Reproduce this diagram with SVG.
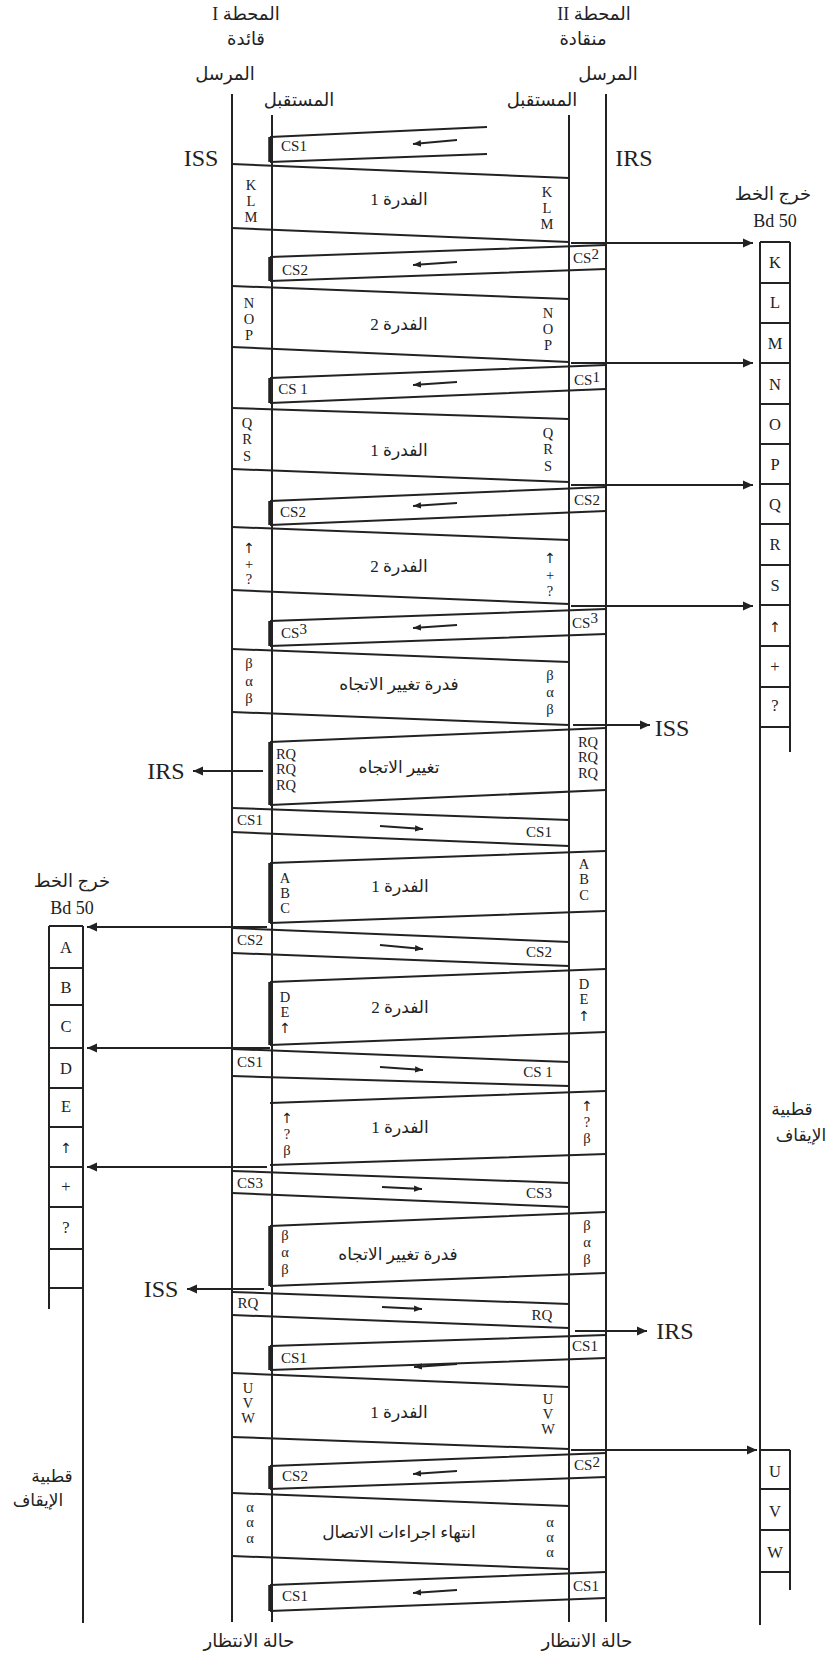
<svg xmlns="http://www.w3.org/2000/svg" width="829" height="1657" viewBox="0 0 829 1657">
<style>
.ln{stroke:#222;stroke-width:2;fill:none}
.thk{stroke:#222;stroke-width:3.5;fill:none}
.tx{font-family:"Liberation Serif",serif;fill:#222;text-anchor:middle}
.s{font-size:15px}
.l{font-size:14.5px}
.tp{font-size:16.5px}
.big{font-size:24px}
.bd{font-size:18px}
.up{font-family:"DejaVu Sans",sans-serif;font-size:14px}
.ar{font-family:"Liberation Serif","DejaVu Sans",serif;fill:#222;text-anchor:middle;direction:rtl;font-size:17px}
.arb{font-size:18px}
</style>
<defs>
<marker id="ah" markerUnits="userSpaceOnUse" markerWidth="11" markerHeight="10" refX="10" refY="5" orient="auto"><path d="M0,0.5 L10,5 L0,9.5 z" fill="#222"/></marker>
<marker id="as" markerUnits="userSpaceOnUse" markerWidth="9" markerHeight="8" refX="8" refY="4" orient="auto"><path d="M0,0.8 L8,4 L0,7.2 z" fill="#222"/></marker>
</defs>
<rect width="829" height="1657" fill="#fff"/>

<g id="headers">
<text class="ar arb" x="246" y="20">المحطة I</text>
<text class="ar arb" x="246" y="45">قائدة</text>
<text class="ar arb" x="225" y="80">المرسل</text>
<text class="ar arb" x="299" y="106">المستقبل</text>
<text class="ar arb" x="594" y="20">المحطة II</text>
<text class="ar arb" x="583" y="45">منقادة</text>
<text class="ar arb" x="608" y="80">المرسل</text>
<text class="ar arb" x="542" y="106">المستقبل</text>
<text class="tx big" x="201" y="166">ISS</text>
<text class="tx big" x="634" y="166">IRS</text>
<text class="ar arb" x="773" y="200">خرج الخط</text>
<text class="tx bd" x="775" y="227">Bd 50</text>
<text class="ar arb" x="72" y="887">خرج الخط</text>
<text class="tx bd" x="72" y="914">Bd 50</text>
<text class="ar" x="792" y="1115">قطبية</text>
<text class="ar" x="801" y="1141">الإيقاف</text>
<text class="ar" x="52" y="1482">قطبية</text>
<text class="ar" x="38" y="1506">الإيقاف</text>
<text class="ar arb" x="249" y="1647">حالة الانتظار</text>
<text class="ar arb" x="587" y="1647">حالة الانتظار</text>
</g>

<g id="lifelines" class="ln">
<line x1="232" y1="94" x2="232" y2="1622"/>
<line x1="272" y1="115" x2="272" y2="1622"/>
<line x1="569" y1="115" x2="569" y2="1622"/>
<line x1="606" y1="94" x2="606" y2="1622"/>
</g>

<g id="tape-right">
<path class="ln" d="M760,242 V1625 M790,242 V752 M760,242 H790 M760,283 H790 M760,323 H790 M760,363 H790 M760,404 H790 M760,444 H790 M760,484 H790 M760,524 H790 M760,565 H790 M760,605 H790 M760,646 H790 M760,687 H790 M760,727 H790"/>
<g class="tx tp">
<text x="775" y="268">K</text><text x="775" y="308">L</text><text x="775" y="349">M</text><text x="775" y="390">N</text><text x="775" y="430">O</text><text x="775" y="470">P</text><text x="775" y="510">Q</text><text x="775" y="550">R</text><text x="775" y="591">S</text><text class="up" x="775" y="632">↑</text><text x="775" y="672">+</text><text x="775" y="711">?</text>
</g>
</g>

<g id="tape-right-lower">
<path class="ln" d="M790,1450 V1590 M760,1450 H790 M760,1489 H790 M760,1530 H790 M760,1572 H790"/>
<g class="tx tp"><text x="775" y="1477">U</text><text x="775" y="1517">V</text><text x="775" y="1558">W</text></g>
</g>

<g id="tape-left">
<path class="ln" d="M49,926 V1309 M83,926 V1623 M49,926 H83 M49,968 H83 M49,1005 H83 M49,1048 H83 M49,1088 H83 M49,1127 H83 M49,1167 H83 M49,1207 H83 M49,1249 H83 M49,1288 H83"/>
<g class="tx tp">
<text x="66" y="953">A</text><text x="66" y="993">B</text><text x="66" y="1032">C</text><text x="66" y="1074">D</text><text x="66" y="1112">E</text><text class="up" x="66" y="1153">↑</text><text x="66" y="1192">+</text><text x="66" y="1233">?</text>
</g>
</g>

<!-- Phase 1 -->
<g id="cs1-init">
<path class="ln" d="M487,127 L270,137 M487,154 L270,162"/><line class="thk" x1="270" y1="137" x2="270" y2="162"/>
<text class="tx s" x="294" y="151">CS1</text>
</g>
<g id="blk-klm">
<path class="ln" d="M232,164 L569,178 M232,228 L569,242"/>
<text class="tx l"><tspan x="251" y="190">K</tspan><tspan x="251" y="206">L</tspan><tspan x="251" y="222">M</tspan></text>
<text class="tx l"><tspan x="547" y="197">K</tspan><tspan x="547" y="213">L</tspan><tspan x="547" y="229">M</tspan></text>
<text class="ar" x="399" y="205">الفدرة 1</text>
</g>
<g id="cs2-a">
<path class="ln" d="M606,245 L270,257 M606,269 L270,281"/><line class="thk" x1="270" y1="257" x2="270" y2="281"/>
<text class="tx s" x="295" y="275">CS2</text>
<text class="tx s" x="586" y="263">CS<tspan dy="-4">2</tspan></text>
</g>
<g id="blk-nop">
<path class="ln" d="M232,286 L569,299 M232,347 L569,362"/>
<text class="tx l"><tspan x="249" y="308">N</tspan><tspan x="249" y="324">O</tspan><tspan x="249" y="340">P</tspan></text>
<text class="tx l"><tspan x="548" y="318">N</tspan><tspan x="548" y="334">O</tspan><tspan x="548" y="350">P</tspan></text>
<text class="ar" x="399" y="330">الفدرة 2</text>
</g>
<g id="cs1-a">
<path class="ln" d="M606,365 L270,378 M606,389 L270,403"/><line class="thk" x1="270" y1="378" x2="270" y2="403"/>
<text class="tx s" x="293" y="394">CS 1</text>
<text class="tx s" x="587" y="385">CS<tspan dy="-3">1</tspan></text>
</g>
<g id="blk-qrs">
<path class="ln" d="M232,408 L569,419 M232,469 L569,482"/>
<text class="tx l"><tspan x="247" y="428">Q</tspan><tspan x="247" y="444">R</tspan><tspan x="247" y="461">S</tspan></text>
<text class="tx l"><tspan x="548" y="438">Q</tspan><tspan x="548" y="454">R</tspan><tspan x="548" y="471">S</tspan></text>
<text class="ar" x="399" y="456">الفدرة 1</text>
</g>
<g id="cs2-b">
<path class="ln" d="M606,487 L270,501 M606,511 L270,525"/><line class="thk" x1="270" y1="501" x2="270" y2="525"/>
<text class="tx s" x="293" y="517">CS2</text>
<text class="tx s" x="587" y="505">CS2</text>
</g>
<g id="blk-arr">
<path class="ln" d="M232,527 L569,540 M232,590 L569,604"/>
<text class="tx l"><tspan class="up" x="249" y="553">↑</tspan><tspan x="249" y="569">+</tspan><tspan x="249" y="584">?</tspan></text>
<text class="tx l"><tspan class="up" x="550" y="563">↑</tspan><tspan x="550" y="580">+</tspan><tspan x="550" y="596">?</tspan></text>
<text class="ar" x="399" y="572">الفدرة 2</text>
</g>
<g id="cs3-a">
<path class="ln" d="M606,609 L270,621 M606,634 L270,646"/><line class="thk" x1="270" y1="621" x2="270" y2="646"/>
<text class="tx s" x="294" y="638">CS<tspan dy="-4">3</tspan></text>
<text class="tx s" x="585" y="628">CS<tspan dy="-5">3</tspan></text>
</g>
<g id="blk-bab1">
<path class="ln" d="M232,649 L569,662 M232,712 L569,725"/>
<text class="tx l"><tspan x="249" y="668">β</tspan><tspan x="249" y="686">α</tspan><tspan x="249" y="703">β</tspan></text>
<text class="tx l"><tspan x="550" y="680">β</tspan><tspan x="550" y="697">α</tspan><tspan x="550" y="714">β</tspan></text>
<text class="ar" x="399" y="690">فدرة تغيير الاتجاه</text>
</g>
<g id="rq-frame">
<path class="ln" d="M606,728 L270,742 M606,790 L270,805"/><line class="thk" x1="270" y1="742" x2="270" y2="805"/>
<text class="tx l"><tspan x="286" y="759">RQ</tspan><tspan x="286" y="774">RQ</tspan><tspan x="286" y="790">RQ</tspan></text>
<text class="tx l"><tspan x="588" y="747">RQ</tspan><tspan x="588" y="762">RQ</tspan><tspan x="588" y="778">RQ</tspan></text>
<text class="ar" x="399" y="773">تغيير الاتجاه</text>
</g>

<!-- Phase 2 -->
<g id="cs1-b">
<path class="ln" d="M232,808 L569,820 M232,832 L569,846"/>
<text class="tx s" x="250" y="825">CS1</text>
<text class="tx s" x="539" y="837">CS1</text>
</g>
<g id="blk-abc">
<path class="ln" d="M606,851 L270,863 M606,911 L270,923"/><line class="thk" x1="270" y1="863" x2="270" y2="923"/>
<text class="tx l"><tspan x="285" y="883">A</tspan><tspan x="285" y="898">B</tspan><tspan x="285" y="913">C</tspan></text>
<text class="tx l"><tspan x="584" y="869">A</tspan><tspan x="584" y="884">B</tspan><tspan x="584" y="900">C</tspan></text>
<text class="ar" x="400" y="892">الفدرة 1</text>
</g>
<g id="cs2-c">
<path class="ln" d="M232,928 L569,942 M232,953 L569,966"/>
<text class="tx s" x="250" y="945">CS2</text>
<text class="tx s" x="539" y="957">CS2</text>
</g>
<g id="blk-de">
<path class="ln" d="M606,969 L270,982 M606,1032 L270,1045"/><line class="thk" x1="270" y1="982" x2="270" y2="1045"/>
<text class="tx l"><tspan x="285" y="1002">D</tspan><tspan x="285" y="1017">E</tspan><tspan class="up" x="285" y="1033">↑</tspan></text>
<text class="tx l"><tspan x="584" y="989">D</tspan><tspan x="584" y="1004">E</tspan><tspan class="up" x="584" y="1021">↑</tspan></text>
<text class="ar" x="400" y="1013">الفدرة 2</text>
</g>
<g id="cs1-c">
<path class="ln" d="M232,1049 L569,1062 M232,1076 L569,1086"/>
<text class="tx s" x="250" y="1067">CS1</text>
<text class="tx s" x="538" y="1077">CS 1</text>
</g>
<g id="blk-aqb">
<path class="ln" d="M606,1091 L270,1103 M606,1154 L270,1165"/>
<text class="tx l"><tspan class="up" x="287" y="1123">↑</tspan><tspan x="287" y="1139">?</tspan><tspan x="287" y="1155">β</tspan></text>
<text class="tx l"><tspan class="up" x="587" y="1111">↑</tspan><tspan x="587" y="1127">?</tspan><tspan x="587" y="1143">β</tspan></text>
<text class="ar" x="400" y="1133">الفدرة 1</text>
</g>
<g id="cs3-b">
<path class="ln" d="M232,1171 L569,1183 M232,1193 L569,1207"/>
<text class="tx s" x="250" y="1188">CS3</text>
<text class="tx s" x="539" y="1198">CS3</text>
</g>
<g id="blk-bab2">
<path class="ln" d="M606,1212 L270,1226 M606,1273 L270,1286"/><line class="thk" x1="270" y1="1226" x2="270" y2="1286"/>
<text class="tx l"><tspan x="285" y="1240">β</tspan><tspan x="285" y="1257">α</tspan><tspan x="285" y="1274">β</tspan></text>
<text class="tx l"><tspan x="587" y="1230">β</tspan><tspan x="587" y="1247">α</tspan><tspan x="587" y="1264">β</tspan></text>
<text class="ar" x="398" y="1260">فدرة تغيير الاتجاه</text>
</g>
<g id="rq-b">
<path class="ln" d="M232,1292 L569,1304 M232,1315 L569,1328"/>
<text class="tx s" x="248" y="1308">RQ</text>
<text class="tx s" x="542" y="1320">RQ</text>
</g>

<!-- Phase 3 -->
<g id="cs1-d">
<path class="ln" d="M606,1335 L270,1346 M606,1358 L270,1370"/><line class="thk" x1="270" y1="1346" x2="270" y2="1370"/>
<text class="tx s" x="294" y="1363">CS1</text>
<text class="tx s" x="585" y="1351">CS1</text>
</g>
<g id="blk-uvw">
<path class="ln" d="M232,1373 L569,1387 M232,1437 L569,1449"/>
<text class="tx l"><tspan x="248" y="1393">U</tspan><tspan x="248" y="1408">V</tspan><tspan x="248" y="1423">W</tspan></text>
<text class="tx l"><tspan x="548" y="1404">U</tspan><tspan x="548" y="1419">V</tspan><tspan x="548" y="1434">W</tspan></text>
<text class="ar" x="399" y="1418">الفدرة 1</text>
</g>
<g id="cs2-d">
<path class="ln" d="M606,1453 L270,1466 M606,1477 L270,1489"/><line class="thk" x1="270" y1="1466" x2="270" y2="1489"/>
<text class="tx s" x="295" y="1481">CS2</text>
<text class="tx s" x="587" y="1470">CS<tspan dy="-3">2</tspan></text>
</g>
<g id="blk-aaa">
<path class="ln" d="M232,1493 L569,1506 M232,1556 L569,1569"/>
<text class="tx l"><tspan x="250" y="1512">α</tspan><tspan x="250" y="1527">α</tspan><tspan x="250" y="1543">α</tspan></text>
<text class="tx l"><tspan x="550" y="1527">α</tspan><tspan x="550" y="1542">α</tspan><tspan x="550" y="1557">α</tspan></text>
<text class="ar" x="399" y="1538">انتهاء اجراءات الاتصال</text>
</g>
<g id="cs1-e">
<path class="ln" d="M606,1572 L270,1585 M606,1598 L270,1611"/><line class="thk" x1="270" y1="1585" x2="270" y2="1611"/>
<text class="tx s" x="295" y="1601">CS1</text>
<text class="tx s" x="586" y="1591">CS1</text>
</g>

<g id="connectors" class="ln">
<g marker-end="url(#as)">
<line x1="457" y1="140" x2="413" y2="144"/>
<line x1="457" y1="262" x2="413" y2="265"/>
<line x1="457" y1="382" x2="413" y2="385"/>
<line x1="457" y1="503" x2="413" y2="506"/>
<line x1="457" y1="625" x2="413" y2="628"/>
<line x1="380" y1="826" x2="423" y2="829"/>
<line x1="380" y1="945" x2="423" y2="949"/>
<line x1="380" y1="1067" x2="423" y2="1070"/>
<line x1="382" y1="1187" x2="422" y2="1189"/>
<line x1="382" y1="1307" x2="422" y2="1309"/>
<line x1="457" y1="1364" x2="414" y2="1367"/>
<line x1="457" y1="1471" x2="413" y2="1474"/>
<line x1="457" y1="1590" x2="413" y2="1593"/>
</g>
<g marker-end="url(#ah)">
<line x1="571" y1="243" x2="753" y2="243"/>
<line x1="571" y1="363" x2="753" y2="363"/>
<line x1="571" y1="485" x2="753" y2="485"/>
<line x1="571" y1="606" x2="753" y2="606"/>
<line x1="571" y1="1450" x2="757" y2="1450"/>
<line x1="267" y1="927" x2="87" y2="927"/>
<line x1="270" y1="1048" x2="87" y2="1048"/>
<line x1="267" y1="1167" x2="87" y2="1167"/>
<line x1="573" y1="725" x2="650" y2="725"/>
<line x1="263" y1="771" x2="193" y2="771"/>
<line x1="264" y1="1289" x2="187" y2="1289"/>
<line x1="575" y1="1331" x2="647" y2="1331"/>
</g>
</g>
<g id="arrow-labels">
<text class="tx big" x="672" y="736">ISS</text>
<text class="tx big" x="166" y="779">IRS</text>
<text class="tx big" x="161" y="1297">ISS</text>
<text class="tx big" x="675" y="1339">IRS</text>
</g>
</svg>
